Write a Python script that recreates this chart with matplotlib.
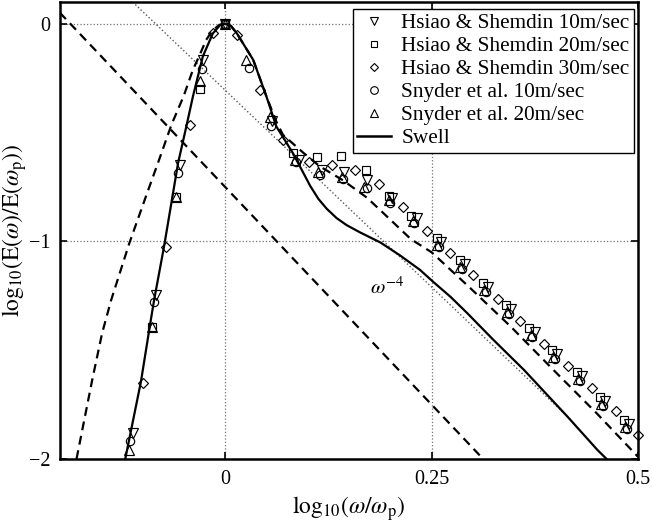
import matplotlib
matplotlib.use("Agg")
import matplotlib.pyplot as plt
from matplotlib.lines import Line2D

plt.rcParams['font.family'] = ['Liberation Serif', 'DejaVu Serif']
plt.rcParams['mathtext.fontset'] = 'stix'

# ---------------- data (log10 units) ----------------
swell_x = [-0.121, -0.102, -0.090, -0.086, -0.074, -0.057, -0.047, -0.039, -0.027, -0.015, -0.006,
           0.000, 0.007, 0.014, 0.034, 0.050, 0.062, 0.082, 0.103, 0.113, 0.123, 0.135, 0.147, 0.163, 0.188,
           0.212, 0.236, 0.252, 0.273, 0.293, 0.325, 0.362, 0.415, 0.451, 0.462]
swell_y = [-2.000, -1.645, -1.361, -1.269, -1.024, -0.640, -0.472, -0.334, -0.150, -0.045, -0.006,
           0.000, -0.010, -0.043, -0.166, -0.334, -0.472, -0.594, -0.745, -0.805, -0.850, -0.893, -0.925, -0.958, -1.005,
           -1.065, -1.131, -1.186, -1.255, -1.329, -1.453, -1.591, -1.807, -1.959, -2.000]

model_x = [-0.180, -0.161, -0.149, -0.138, -0.116, -0.096, -0.080, -0.065, -0.050, -0.039, -0.031,
           -0.023, -0.015, -0.007, 0.000, 0.007, 0.014, 0.034, 0.050, 0.062, 0.070, 0.095, 0.115,
           0.143, 0.172, 0.200, 0.225, 0.250, 0.297, 0.346, 0.400, 0.450, 0.500]
model_y = [-2.000, -1.637, -1.422, -1.269, -1.008, -0.794, -0.625, -0.464, -0.330, -0.211, -0.145,
           -0.074, -0.030, -0.005, 0.000, -0.010, -0.043, -0.166, -0.334, -0.450, -0.510, -0.594, -0.656,
           -0.720, -0.800, -0.900, -0.990, -1.050, -1.215, -1.392, -1.600, -1.790, -1.990]

omega4_x = [-0.2125, 0.3125]
omega4_y = [0.100, -2.000]

dotted_x = [-0.112, 0.420]
dotted_y = [0.100, -1.825]

hs10_x = [-0.112, -0.084, -0.055, -0.027, 0.000, 0.057, 0.089, 0.117, 0.144, 0.172, 0.202,
          0.232, 0.262, 0.290, 0.318, 0.346, 0.375, 0.402, 0.432, 0.460, 0.489]
hs10_y = [-1.882, -1.246, -0.648, -0.166, 0.000, -0.446, -0.625, -0.671, -0.679, -0.717, -0.801,
          -0.894, -1.004, -1.103, -1.211, -1.310, -1.417, -1.517, -1.620, -1.732, -1.839]

hs20_x = [-0.089, -0.059, -0.031, 0.000, 0.082, 0.111, 0.140, 0.170, 0.198, 0.225,
          0.256, 0.284, 0.312, 0.340, 0.368, 0.396, 0.426, 0.454, 0.483]
hs20_y = [-1.394, -0.797, -0.300, 0.000, -0.594, -0.610, -0.607, -0.674, -0.791, -0.885,
          -0.985, -1.085, -1.192, -1.292, -1.399, -1.499, -1.601, -1.714, -1.821]

hs30_x = [-0.100, -0.072, -0.043, -0.015, 0.014, 0.042, 0.070, 0.101, 0.129, 0.157, 0.186,
          0.215, 0.244, 0.272, 0.300, 0.330, 0.357, 0.386, 0.415, 0.444, 0.473, 0.500]
hs30_y = [-1.649, -1.027, -0.464, -0.043, -0.051, -0.303, -0.533, -0.633, -0.648, -0.674, -0.736,
          -0.840, -0.950, -1.054, -1.154, -1.264, -1.366, -1.471, -1.572, -1.675, -1.778, -1.890]

sn10_x = [-0.115, -0.086, -0.057, -0.028, 0.000, 0.029, 0.056, 0.086, 0.115, 0.143, 0.172,
          0.200, 0.229, 0.259, 0.287, 0.316, 0.344, 0.372, 0.400, 0.430, 0.458, 0.487]
sn10_y = [-1.916, -1.277, -0.686, -0.208, 0.000, -0.204, -0.472, -0.634, -0.694, -0.713, -0.755,
          -0.822, -0.917, -1.027, -1.126, -1.234, -1.333, -1.440, -1.540, -1.643, -1.755, -1.862]

sn20_x = [-0.117, -0.089, -0.059, -0.031, 0.000, 0.025, 0.054, 0.084, 0.113, 0.141, 0.168,
          0.198, 0.227, 0.257, 0.285, 0.313, 0.341, 0.370, 0.397, 0.427, 0.455, 0.484]
sn20_y = [-1.959, -1.394, -0.797, -0.265, 0.000, -0.166, -0.428, -0.625, -0.679, -0.706, -0.748,
          -0.809, -0.908, -1.017, -1.117, -1.224, -1.324, -1.431, -1.531, -1.634, -1.746, -1.853]

labels = ["Hsiao & Shemdin 10m/sec", "Hsiao & Shemdin 20m/sec", "Hsiao & Shemdin 30m/sec",
          "Snyder et al. 10m/sec", "Snyder et al. 20m/sec", "Swell"]
xticks = [0, 0.25, 0.5]
xticklabels = ["0", "0.25", "0.5"]
yticks = [-2, -1, 0]
yticklabels = ["\u22122", "\u22121", "0"]

# ---------------- figure ----------------
fig = plt.figure(figsize=(6.52, 5.25), dpi=100)
ax = fig.add_axes([60/652, 1 - 459/525, 578/652, 457/525])

ax.set_xlim(-0.2, 0.5)
ax.set_ylim(-2, 0.1)

ax.plot(dotted_x, dotted_y, ':', color='0.35', lw=1.0, zorder=2)
ax.plot(omega4_x, omega4_y, color='k', lw=1.6, dashes=(4, 2.6), zorder=3)
ax.plot(model_x, model_y, color='k', lw=1.6, dashes=(4, 2.6), zorder=3)
ax.plot(swell_x, swell_y, '-', color='k', lw=1.6, zorder=4)

mk = dict(ls='none', mfc='none', mec='k', mew=0.85, ms=6.5, zorder=5, clip_on=False)
ax.plot(hs10_x, hs10_y, marker='v', **mk)
ax.plot(hs20_x, hs20_y, marker='s', **dict(mk, ms=5.5))
ax.plot(hs30_x, hs30_y, marker='D', **dict(mk, ms=5))
ax.plot(sn10_x, sn10_y, marker='o', **dict(mk, ms=6))
ax.plot(sn20_x, sn20_y, marker='^', **mk)

ax.text(0.176, -1.215, r'$\omega^{-4}$', fontsize=15, ha='left', va='center')

ax.set_xticks(xticks)
ax.set_xticklabels(xticklabels)
ax.set_yticks(yticks)
ax.set_yticklabels(yticklabels)
ax.tick_params(direction='in', length=5, width=1.2, top=True, right=True, labelsize=14.5)
ax.tick_params(axis='x', pad=8)
ax.tick_params(axis='y', pad=7)
ax.grid(True, ls=':', color='0.45', lw=0.9)
for s in ax.spines.values():
    s.set_linewidth(1.8)

ax.set_xlabel(r'$\mathrm{log}_{10}(\omega/\omega_\mathrm{p})$', fontsize=17, labelpad=4)
ax.set_ylabel(r'$\mathrm{log}_{10}(\mathrm{E}(\omega)/\mathrm{E}(\omega_\mathrm{p}))$', fontsize=17, labelpad=0)

lmk = dict(ls='none', mfc='none', mec='k', mew=0.8)
handles = [Line2D([], [], marker='v', ms=5.5, **lmk),
           Line2D([], [], marker='s', ms=5, **lmk),
           Line2D([], [], marker='D', ms=4.5, **lmk),
           Line2D([], [], marker='o', ms=5.5, **lmk),
           Line2D([], [], marker='^', ms=5.5, **lmk),
           Line2D([], [], color='k', lw=1.8)]
leg = ax.legend(handles, labels, loc='upper right', bbox_to_anchor=(0.993, 0.985),
                borderaxespad=0, fontsize=15.3, frameon=True, fancybox=False,
                framealpha=1, edgecolor='k', labelspacing=0.15, handlelength=1.6,
                handletextpad=0.5, borderpad=0.2)
leg.get_frame().set_linewidth(1.0)

fig.savefig('out.png', dpi=100)
